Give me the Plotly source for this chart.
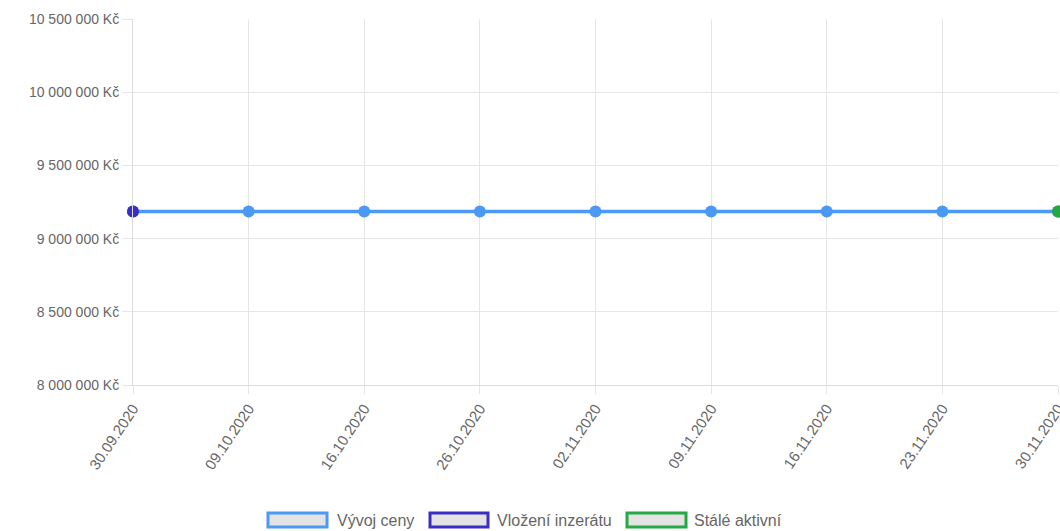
import plotly.graph_objects as go

# Price history of the listing
dates = ["30.09.2020", "09.10.2020", "16.10.2020", "26.10.2020", "02.11.2020",
         "09.11.2020", "16.11.2020", "23.11.2020", "30.11.2020"]
prices = [9185000, 9185000, 9185000, 9185000, 9185000, 9185000, 9185000, 9185000, 9185000]

series_names = ["Vývoj ceny", "Vložení inzerátu", "Stálé aktivní"]
series_colors = ["#4a9af5", "#3a2fc2", "#23a845"]

y_min, y_max, y_step = 8000000, 10500000, 500000

fig = go.Figure()

fig.add_trace(go.Scatter(
    x=dates, y=prices, mode="lines+markers", name=series_names[0],
    line=dict(color=series_colors[0], width=3.5),
    marker=dict(size=12, color=series_colors[0]),
    cliponaxis=False, showlegend=False,
))
fig.add_trace(go.Scatter(
    x=[dates[0]], y=[prices[0]], mode="markers", name=series_names[1],
    marker=dict(size=12, color=series_colors[1]),
    cliponaxis=False, showlegend=False,
))
fig.add_trace(go.Scatter(
    x=[dates[-1]], y=[prices[-1]], mode="markers", name=series_names[2],
    marker=dict(size=12, color=series_colors[2]),
    cliponaxis=False, showlegend=False,
))

# Chart.js-style legend: bordered boxes followed by labels
W, H = 1060, 531
L, R, T, B = 133, 2, 19, 146
legend_items = [
    (268, 327, 335),
    (430, 488, 495),
    (627, 686, 692),
]
pw, ph = W - L - R, H - T - B
for (x0, x1, tx), name, color in zip(legend_items, series_names, series_colors):
    fig.add_shape(type="rect", xref="paper", yref="paper",
                  x0=(x0 - L) / pw, x1=(x1 - L) / pw,
                  y0=-(513 - (H - B)) / ph, y1=-(527 - (H - B)) / ph,
                  line=dict(color=color, width=3), fillcolor="#e3e3e3")
    fig.add_annotation(xref="paper", yref="paper",
                       x=(tx - L) / pw, y=-(520 - (H - B)) / ph,
                       text=name, showarrow=False, xanchor="left", yanchor="middle",
                       font=dict(family="Liberation Sans, Arial", size=16, color="#666666"))

fig.update_layout(
    width=W, height=H,
    margin=dict(l=L, r=R, t=T, b=B),
    plot_bgcolor="white", paper_bgcolor="white",
    separators=", ",
    font=dict(family="Liberation Sans, Arial", size=14, color="#666666"),
)
fig.update_xaxes(
    type="category", range=[0, len(dates) - 1], automargin=False,
    showgrid=True, gridcolor="#e6e6e6", gridwidth=1,
    showline=True, linecolor="#dcdcdc", linewidth=1,
    ticks="outside", ticklen=8, tickcolor="#e6e6e6",
    tickangle=-56, tickfont=dict(size=15, color="#666666"),
    zeroline=False,
)
fig.update_yaxes(
    range=[y_min, y_max], dtick=y_step, tick0=y_min, automargin=False,
    tickformat=",d", ticksuffix=" Kč",
    showgrid=True, gridcolor="#e6e6e6", gridwidth=1,
    showline=True, linecolor="#dcdcdc", linewidth=1,
    ticks="outside", ticklen=10, tickcolor="#e6e6e6",
    tickfont=dict(size=14, color="#666666"),
    zeroline=False,
)

fig.write_html("out.html")
